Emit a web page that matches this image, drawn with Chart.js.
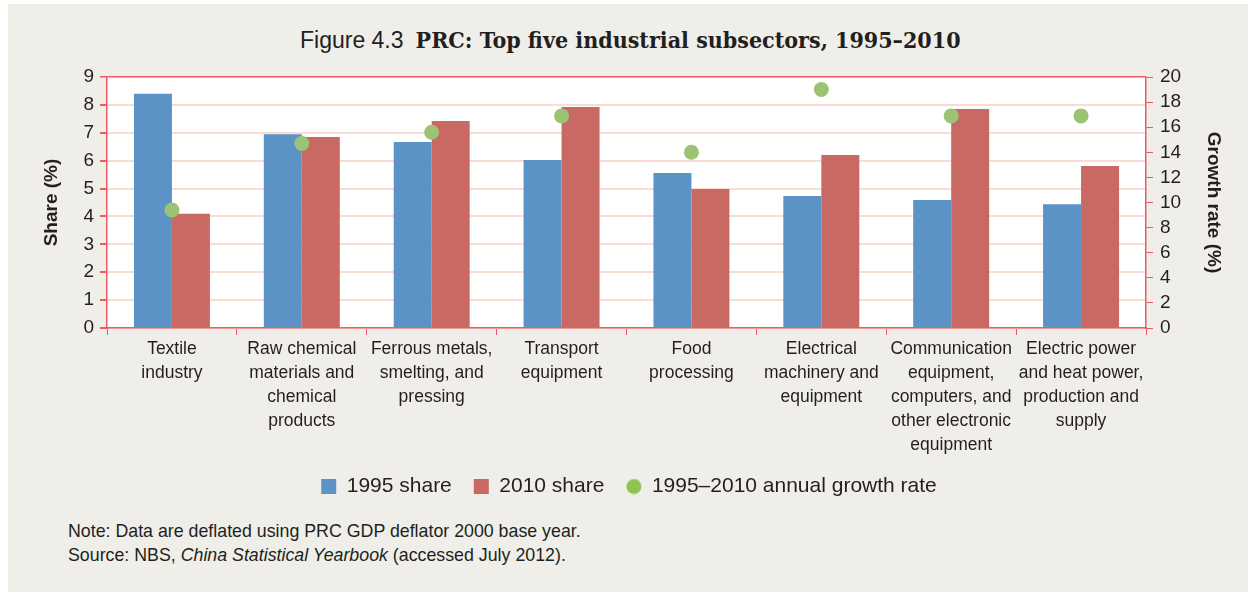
<!DOCTYPE html>
<html><head><meta charset="utf-8">
<script src="https://cdn.jsdelivr.net/npm/chart.js@4.4.0/dist/chart.umd.min.js"></script>
<style>
html,body{margin:0;padding:0;background:#ffffff;width:1248px;height:592px;overflow:hidden;}
#frame{position:absolute;left:8px;top:4px;width:1240px;height:588px;background:#efeee9;}
#wrap{position:absolute;left:0;top:0;width:1248px;height:509px;}
#title{position:absolute;left:300px;top:26px;white-space:nowrap;color:#231f20;line-height:28px;}
#title .fig{font-family:"Liberation Sans",Arial,sans-serif;font-size:23px;}
#title .main{font-family:"DejaVu Serif Condensed","DejaVu Serif",serif;font-stretch:condensed;font-weight:bold;font-size:23px;margin-left:12px;}
#notes{position:absolute;left:68px;top:519px;font-family:"Liberation Sans",Arial,sans-serif;font-size:17.8px;line-height:24px;color:#231f20;}
</style></head>
<body>
<div id="frame"></div>
<div id="title"><span class="fig">Figure 4.3</span><span class="main">PRC: Top five industrial subsectors, 1995–2010</span></div>
<div id="wrap"><canvas id="c" width="1248" height="509"></canvas></div>
<div id="notes">Note: Data are deflated using PRC GDP deflator 2000 base year.<br>Source: NBS, <i>China Statistical Yearbook</i> (accessed July 2012).</div>
<script>
const categories = [
  ["Textile","industry"],
  ["Raw chemical","materials and","chemical","products"],
  ["Ferrous metals,","smelting, and","pressing"],
  ["Transport","equipment"],
  ["Food","processing"],
  ["Electrical","machinery and","equipment"],
  ["Communication","equipment,","computers, and","other electronic","equipment"],
  ["Electric power","and heat power,","production and","supply"]
];
const share1995 = [8.4, 6.95, 6.67, 6.02, 5.56, 4.73, 4.59, 4.44];
const share2010 = [4.1, 6.85, 7.42, 7.92, 4.98, 6.2, 7.85, 5.81];
const growthRate = [9.4, 14.7, 15.6, 16.9, 14.0, 19.0, 16.9, 16.9];
const seriesNames = ["1995 share", "2010 share", "1995–2010 annual growth rate"];
const shareAxisTitle = "Share (%)";
const growthAxisTitle = "Growth rate (%)";

const BLUE = "#5b93c7", RED = "#c86963", GREEN = "#9cc274", GREEN_LEG = "#8cc552";
const AXIS = "#ee5a63", GRID = "#fbdcd2", TXT = "#231f20";
const FONT = "'Liberation Sans', Arial, sans-serif";

// legend circle image
const dot = document.createElement('canvas');
dot.width = 16; dot.height = 16;
const dctx = dot.getContext('2d');
dctx.fillStyle = GREEN_LEG; dctx.beginPath(); dctx.arc(8, 8, 7.5, 0, Math.PI * 2); dctx.fill();

const bgPlugin = {
  id: 'plotBg',
  beforeDraw(chart) {
    const {ctx, chartArea: a} = chart;
    ctx.save(); ctx.fillStyle = '#ffffff';
    ctx.fillRect(a.left, a.top, a.right - a.left, a.bottom - a.top);
    ctx.restore();
  }
};

new Chart(document.getElementById('c'), {
  data: {
    labels: categories,
    datasets: [
      {type: 'bar', label: seriesNames[0], data: share1995, backgroundColor: BLUE, yAxisID: 'y',
       barPercentage: 1, categoryPercentage: 0.585, pointStyle: 'rect', order: 1},
      {type: 'bar', label: seriesNames[1], data: share2010, backgroundColor: RED, yAxisID: 'y',
       barPercentage: 1, categoryPercentage: 0.585, pointStyle: 'rect', order: 1},
      {type: 'line', label: seriesNames[2], data: growthRate, yAxisID: 'y1', showLine: false,
       pointRadius: 7.5, pointBackgroundColor: GREEN, pointBorderWidth: 0, borderColor: GREEN,
       backgroundColor: GREEN, pointStyle: 'circle', order: 0}
    ]
  },
  plugins: [bgPlugin],
  options: {
    responsive: false, animation: false,
    layout: {padding: {left: 20, right: 10, top: 77, bottom: 2}},
    plugins: {
      tooltip: {enabled: false},
      legend: {
        position: 'bottom',
        labels: {
          font: {family: FONT, size: 21}, color: TXT, usePointStyle: true,
          boxWidth: 15, boxHeight: 15, padding: 22,
          sort: (a, b) => a.datasetIndex - b.datasetIndex,
          generateLabels(chart) {
            const items = Chart.defaults.plugins.legend.labels.generateLabels(chart);
            items.forEach(it => {
              if (it.datasetIndex === 2) { it.pointStyle = dot; }
              else { it.pointStyle = 'rect'; it.lineWidth = 0; it.strokeStyle = 'transparent'; }
            });
            return items;
          }
        }
      }
    },
    scales: {
      x: {
        offset: true,
        grid: {drawOnChartArea: false, offset: true, drawTicks: true, tickLength: 7, tickColor: AXIS},
        border: {color: AXIS, width: 1.5},
        ticks: {font: {family: FONT, size: 17.5, lineHeight: 1.37}, color: TXT, padding: 2, maxRotation: 0, autoSkip: false},
        afterFit(s) { s.height = 126; }
      },
      y: {
        position: 'left', min: 0, max: 9,
        ticks: {stepSize: 1, font: {family: FONT, size: 19}, color: TXT, padding: 6, autoSkip: false},
        grid: {color: c => (c.tick && c.tick.value === 9) ? AXIS : GRID, lineWidth: c => (c.tick && c.tick.value === 9) ? 1.5 : 2, tickColor: AXIS, tickLength: 7},
        border: {color: AXIS, width: 1.5},
        title: {display: true, text: shareAxisTitle, font: {family: FONT, size: 19, weight: 'bold'}, color: TXT, padding: {top: 20, bottom: 0}},
        afterFit(s) { s.width = 87; }
      },
      y1: {
        position: 'right', min: 0, max: 20,
        ticks: {stepSize: 2, font: {family: FONT, size: 19}, color: TXT, padding: 7, autoSkip: false},
        grid: {drawOnChartArea: false, tickColor: AXIS, tickLength: 7},
        border: {color: AXIS, width: 1.5},
        title: {display: true, text: growthAxisTitle, font: {family: FONT, size: 19, weight: 'bold'}, color: TXT, padding: {top: 13, bottom: 0}},
        afterFit(s) { s.width = 92; }
      }
    }
  }
});
</script>
</body></html>
